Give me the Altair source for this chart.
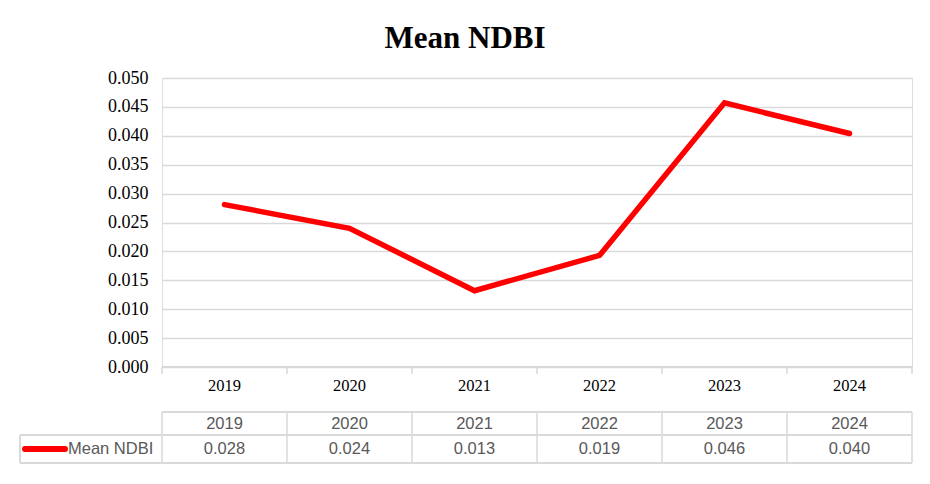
import altair as alt
import pandas as pd

years = ["2019", "2020", "2021", "2022", "2023", "2024"]
ndbi = [0.0281, 0.0240, 0.0132, 0.0193, 0.0457, 0.0404]
y_ticks = [0.000, 0.005, 0.010, 0.015, 0.020, 0.025, 0.030, 0.035, 0.040, 0.045, 0.050]
series_name = "Mean NDBI"

W, H = 750, 289
GRID = "#d9d9d9"
TXT = "#595959"

df = pd.DataFrame({"year": years, "idx": list(range(len(years))), "value": ndbi})
bounds = pd.DataFrame({"b": [i - 0.5 for i in range(len(years) + 1)]})

xs = alt.Scale(domain=[-0.5, len(years) - 0.5], nice=False, zero=False)
X = alt.X("idx:Q", scale=xs, axis=None)
XB = alt.X("b:Q", scale=xs, axis=None)

base = alt.Chart(df)

line = base.mark_line(color="#ff0000", strokeWidth=5.5, strokeCap="round", strokeJoin="miter").encode(
    x=X,
    y=alt.Y("value:Q", scale=alt.Scale(domain=[0, 0.05], nice=False),
            axis=alt.Axis(values=y_ticks, format=".3f", title=None, domain=False, ticks=False,
                          labelFont="Liberation Serif", labelFontSize=18, labelColor="#000000",
                          labelPadding=14, gridColor=GRID, gridWidth=1.3)),
)

# x axis line and boundary ticks
axis_line = alt.Chart(bounds).mark_rule(color=GRID, strokeWidth=1.5).encode(
    x=alt.value(0), x2=alt.value(W), y=alt.value(H))
axis_ticks = alt.Chart(bounds).mark_rule(color=GRID, strokeWidth=1.5).encode(
    x=XB, y=alt.value(H), y2=alt.value(H + 7))
axis_labels = base.mark_text(font="Liberation Serif", fontSize=16.5, color="#000000", baseline="middle").encode(
    x=X, y=alt.value(H + 19), text="year:N")

# data table
tbl_vlines = alt.Chart(bounds).mark_rule(color=GRID, strokeWidth=1.5).encode(
    x=XB, y=alt.value(H + 45), y2=alt.value(H + 96))
tbl_top = alt.Chart(bounds).mark_rule(color=GRID, strokeWidth=1.5).encode(
    x=alt.value(0), x2=alt.value(W), y=alt.value(H + 45))
tbl_mid = alt.Chart(bounds).mark_rule(color=GRID, strokeWidth=1.5).encode(
    x=alt.value(-142), x2=alt.value(W), y=alt.value(H + 68))
tbl_bot = alt.Chart(bounds).mark_rule(color=GRID, strokeWidth=1.5).encode(
    x=alt.value(-142), x2=alt.value(W), y=alt.value(H + 96))
tbl_left = alt.Chart(bounds).mark_rule(color=GRID, strokeWidth=1.5).encode(
    x=alt.value(-142), y=alt.value(H + 68), y2=alt.value(H + 96))
tbl_years = base.mark_text(font="Liberation Sans", fontSize=16.5, color=TXT, baseline="middle").encode(
    x=X, y=alt.value(H + 57), text="year:N")
tbl_vals = base.mark_text(font="Liberation Sans", fontSize=16.5, color=TXT, baseline="middle").encode(
    x=X, y=alt.value(H + 82), text=alt.Text("value:Q", format=".3f"))

legend_df = pd.DataFrame({"name": [series_name]})
leg_line = alt.Chart(legend_df).mark_rule(color="#ff0000", strokeWidth=6, strokeCap="round").encode(
    x=alt.value(-137), x2=alt.value(-97), y=alt.value(H + 82))
leg_text = alt.Chart(legend_df).mark_text(font="Liberation Sans", fontSize=16.5, color=TXT,
                                          align="left", baseline="middle").encode(
    x=alt.value(-94), y=alt.value(H + 82), text="name:N")

frame_top = alt.Chart(legend_df).mark_rule(color=GRID, strokeWidth=2).encode(
    x=alt.value(-154), x2=alt.value(W + 20), y=alt.value(-75))

title_mark = alt.Chart(legend_df).mark_text(font="Liberation Serif", fontSize=31, fontWeight="bold",
                                            color="#000000", align="center", baseline="middle").encode(
    x=alt.value(W / 2 - 72), y=alt.value(-39), text="name:N")

chart = alt.layer(
    line, axis_line, axis_ticks, axis_labels,
    tbl_top, tbl_mid, tbl_bot, tbl_left, tbl_vlines, tbl_years, tbl_vals,
    leg_line, leg_text, frame_top, title_mark,
).properties(
    width=W, height=H,
    autosize=alt.AutoSizeParams(type="none"),
    padding={"left": 154, "top": 70, "right": 10, "bottom": 108},
).configure_view(stroke=None).configure(background="#ffffff")

chart.save("out.html", embed_options={"renderer": "svg", "actions": False})
